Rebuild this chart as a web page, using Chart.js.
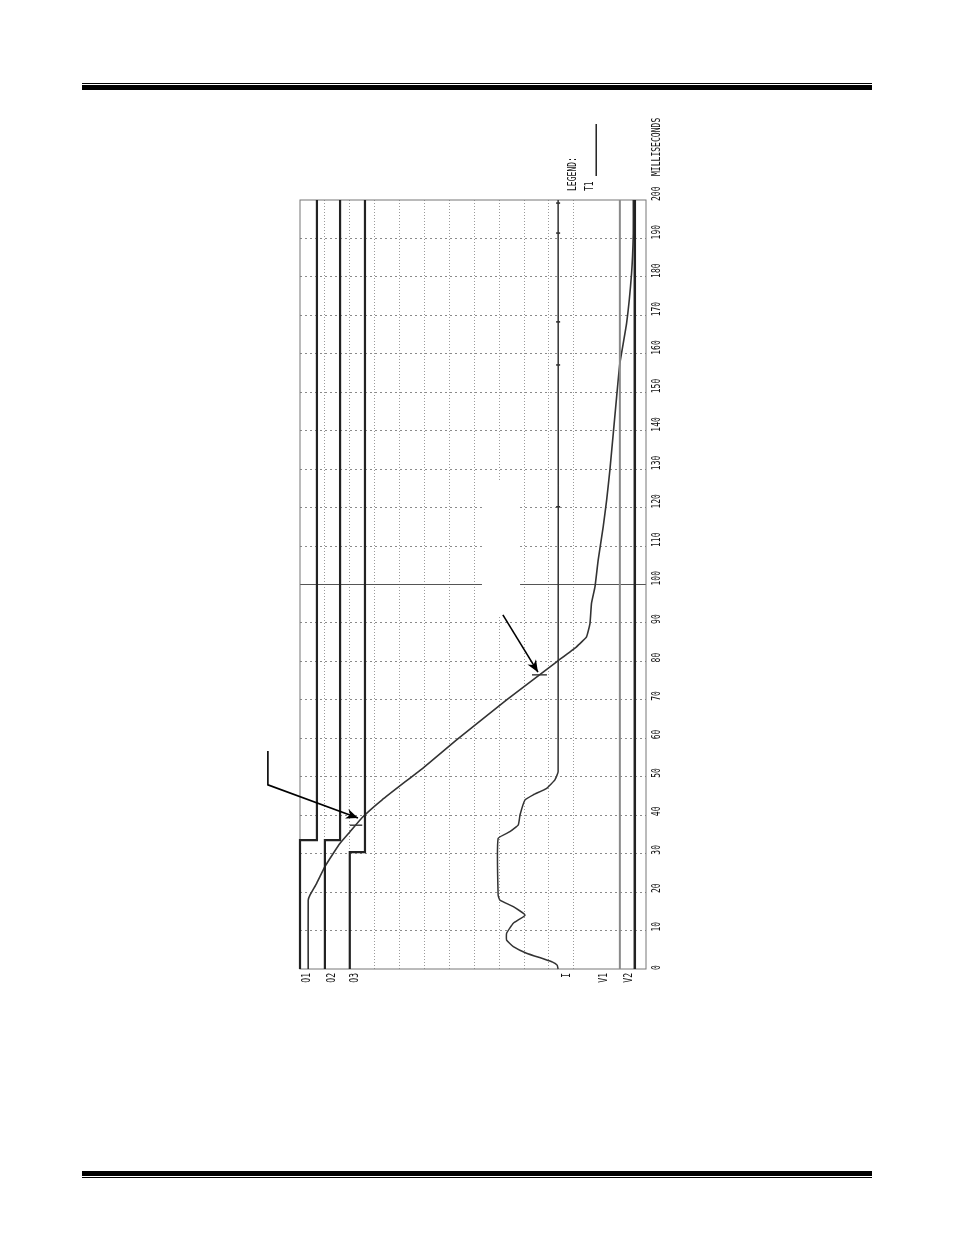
<!DOCTYPE html>
<html>
<head>
<meta charset="utf-8">
<script src="https://cdn.jsdelivr.net/npm/chart.js@4.4.1/dist/chart.umd.min.js"></script>
<style>
  html, body { margin:0; padding:0; background:#fff; width:954px; height:1235px; overflow:hidden; }
  .rule { position:absolute; left:82px; width:790px; background:#000; }
  #wrap { position:absolute; left:0; top:0; width:954px; height:1235px; }
</style>
</head>
<body>
<div class="rule" style="top:83px;height:1px;"></div>
<div class="rule" style="top:85px;height:5px;"></div>
<div class="rule" style="top:1171px;height:5px;"></div>
<div class="rule" style="top:1177px;height:1px;"></div>
<div id="wrap"><canvas id="c" width="954" height="1235" style="width:954px;height:1235px;"></canvas></div>
<script>
// ---- data (time in milliseconds, level in chart units) ----
const timeTicks = [0,10,20,30,40,50,60,70,80,90,100,110,120,130,140,150,160,170,180,190,200];
const channelNames = ['O1','O2','O3','I','V1','V2'];

const o1Time  = [0, 33.5, 33.5, 200];
const o1Level = [0, 0, 0.68, 0.68];
const o2Time  = [0, 33.5, 33.5, 200];
const o2Level = [1.0, 1.0, 1.61, 1.61];
const o3Time  = [0, 30.4, 30.4, 200];
const o3Level = [2.0, 2.0, 2.61, 2.61];

const iTime  = [0, 1.0, 1.8, 2.6, 4.1, 5.8, 7.5, 9.3, 11.9, 14.0, 16.2, 17.9, 19.2, 34.0, 35.7, 37.5, 40.1, 44.0, 45.3, 47.0, 49.2, 51.3, 200];
const iLevel = [10.37, 10.33, 10.15, 9.80, 9.10, 8.57, 8.30, 8.30, 8.57, 9.04, 8.57, 8.03, 7.96, 7.96, 8.43, 8.77, 8.84, 9.04, 9.37, 9.91, 10.24, 10.37, 10.37];
const iMarkTime = [120.2, 157.1, 168.3, 191.4, 199.2];

const v1Time = [0, 200];
const v1Level = [12.85, 12.85];
const v2Time = [0, 200];
const v2Level = [13.45, 13.45];

const t1Time  = [0, 17.9, 19.2, 22.3, 26.6, 30.1, 32.7, 35.7, 39.4, 44.0, 52.6, 59.6, 70.0, 79.9, 83.8, 86.4, 89.9, 95.1, 99.4, 106.4, 115.0, 122.0, 129.8, 148.8, 157.5, 167.9, 180.9, 191.3, 200];
const t1Level = [0.33, 0.33, 0.40, 0.67, 1.0, 1.34, 1.61, 2.01, 2.5, 3.3, 5.0, 6.29, 8.30, 10.31, 11.11, 11.51, 11.65, 11.71, 11.85, 11.98, 12.18, 12.32, 12.45, 12.72, 12.85, 13.12, 13.32, 13.39, 13.39];

// short contact marks on the travel curve
const markATime = [37.4, 37.4];
const markALevel = [2.0, 2.5];
const markBTime = [76.5, 76.5];
const markBLevel = [9.32, 9.92];

// channel label anchors (level units)
const channelLabelLevel = [0.4, 1.41, 2.33, 10.84, 12.33, 13.33];

// annotation arrows (level, time)
const arrow1Level = [-1.29, -1.29, 2.33];
const arrow1Time  = [56.7, 47.9, 39.3];
const arrow2Level = [8.15, 9.56];
const arrow2Time  = [92.1, 77.2];

// blanked area (level, time ranges)
const blankLevel = [7.31, 8.84];
const blankTime = [92, 127];

function pts(levels, times) { return levels.map((v, i) => ({ x: v, y: times[i] })); }

const FONT = '13px "DejaVu Sans Mono", "Liberation Mono", monospace';
function rotText(ctx, text, x, y, align) {
  ctx.save();
  ctx.translate(x, y);
  ctx.rotate(-Math.PI / 2);
  ctx.scale(0.62, 1);
  ctx.font = FONT;
  ctx.fillStyle = '#111';
  ctx.textAlign = align;
  ctx.textBaseline = 'alphabetic';
  ctx.fillText(text, 0, 0);
  ctx.restore();
}
function arrow(ctx, xs, ys) {
  ctx.save();
  ctx.strokeStyle = '#000';
  ctx.fillStyle = '#000';
  ctx.lineWidth = 1.6;
  ctx.beginPath();
  ctx.moveTo(xs[0], ys[0]);
  for (let i = 1; i < xs.length; i++) ctx.lineTo(xs[i], ys[i]);
  ctx.stroke();
  const n = xs.length;
  const ang = Math.atan2(ys[n-1] - ys[n-2], xs[n-1] - xs[n-2]);
  const L = 12, W = 5;
  ctx.beginPath();
  ctx.moveTo(xs[n-1], ys[n-1]);
  ctx.lineTo(xs[n-1] - L*Math.cos(ang) + W*Math.sin(ang), ys[n-1] - L*Math.sin(ang) - W*Math.cos(ang));
  ctx.lineTo(xs[n-1] - L*0.7*Math.cos(ang), ys[n-1] - L*0.7*Math.sin(ang));
  ctx.lineTo(xs[n-1] - L*Math.cos(ang) - W*Math.sin(ang), ys[n-1] - L*Math.sin(ang) + W*Math.cos(ang));
  ctx.closePath();
  ctx.fill();
  ctx.restore();
}

const decor = {
  id: 'decor',
  beforeDatasetsDraw(chart) {
    const { ctx, chartArea: a, scales: { x, y } } = chart;
    ctx.save();
    ctx.strokeStyle = '#555';
    ctx.lineWidth = 1.2;
    const y100 = y.getPixelForValue(100);
    ctx.beginPath(); ctx.moveTo(a.left, y100); ctx.lineTo(a.right, y100); ctx.stroke();
    ctx.strokeStyle = '#777';
    ctx.lineWidth = 1;
    ctx.strokeRect(a.left, a.top, a.right - a.left, a.bottom - a.top);
    ctx.restore();
  },
  afterDatasetsDraw(chart) {
    const { ctx, chartArea: a, scales: { x, y } } = chart;
    ctx.save();
    ctx.fillStyle = '#fff';
    const bx0 = x.getPixelForValue(blankLevel[0]), bx1 = x.getPixelForValue(blankLevel[1]);
    const by0 = y.getPixelForValue(blankTime[1]), by1 = y.getPixelForValue(blankTime[0]);
    ctx.fillRect(bx0, by0, bx1 - bx0, by1 - by0);
    ctx.restore();
    arrow(ctx, arrow1Level.map(v => x.getPixelForValue(v)), arrow1Time.map(t => y.getPixelForValue(t)));
    arrow(ctx, arrow2Level.map(v => x.getPixelForValue(v)), arrow2Time.map(t => y.getPixelForValue(t)));
    const tx = a.right + 14;
    timeTicks.forEach(t => rotText(ctx, String(t), tx, y.getPixelForValue(t) + 1, 'left'));
    rotText(ctx, 'MILLISECONDS', tx, y.getPixelForValue(200) - 24, 'left');
    rotText(ctx, 'LEGEND:', x.getPixelForValue(11.1), y.getPixelForValue(200) - 9, 'left');
    rotText(ctx, 'T1', x.getPixelForValue(11.77), y.getPixelForValue(200) - 9, 'left');
    ctx.save();
    ctx.strokeStyle = '#222'; ctx.lineWidth = 1.5;
    const lx = x.getPixelForValue(11.9);
    ctx.beginPath(); ctx.moveTo(lx, y.getPixelForValue(200) - 24); ctx.lineTo(lx, y.getPixelForValue(200) - 76); ctx.stroke();
    ctx.restore();
    channelNames.forEach((n, i) => rotText(ctx, n, x.getPixelForValue(channelLabelLevel[i]), a.bottom + 4, 'right'));
  }
};

const line = (data, color, w) => ({
  data, borderColor: color, borderWidth: w, pointRadius: 0, showLine: true,
  fill: false, tension: 0, clip: false
});

new Chart(document.getElementById('c'), {
  type: 'scatter',
  data: {
    datasets: [
      line(pts(o1Level, o1Time), '#222', 2.2),
      line(pts(o2Level, o2Time), '#222', 2.2),
      line(pts(o3Level, o3Time), '#222', 2.2),
      line(pts(v1Level, v1Time), '#8a8a8a', 2),
      line(pts(v2Level, v2Time), '#222', 2.5),
      Object.assign(line(pts(iLevel, iTime), '#333', 1.5), { tension: 0.12 }),
      Object.assign(line(pts(t1Level, t1Time), '#333', 1.6), { tension: 0.12 }),
      line(pts(markALevel, markATime), '#333', 1.4),
      line(pts(markBLevel, markBTime), '#333', 1.4),
      { data: iMarkTime.map(t => ({ x: iLevel[iLevel.length - 1], y: t })), pointStyle: 'line',
        pointRadius: 2, borderColor: '#222', borderWidth: 1.5, showLine: false, clip: false }
    ]
  },
  options: {
    responsive: false,
    animation: false,
    events: [],
    layout: { padding: { left: 300, right: 308, top: 200, bottom: 266 } },
    plugins: { legend: { display: false }, tooltip: { enabled: false } },
    scales: {
      x: {
        type: 'linear', min: 0, max: 13.9,
        ticks: { display: false, stepSize: 1 },
        grid: {
          drawTicks: false, lineWidth: 1,
          color: c => (c.tick && c.tick.value >= 1 && c.tick.value <= 11 && Number.isInteger(c.tick.value)) ? '#9a9a9a' : 'rgba(0,0,0,0)'
        },
        border: { display: false, dash: [1, 2] }
      },
      y: {
        type: 'linear', min: 0, max: 200,
        ticks: { display: false, stepSize: 10 },
        grid: {
          drawTicks: false, lineWidth: 1,
          color: c => (c.tick && c.tick.value > 0 && c.tick.value < 200) ? '#8a8a8a' : 'rgba(0,0,0,0)'
        },
        border: { display: false, dash: [2, 3] }
      }
    }
  },
  plugins: [decor]
});
</script>
</body>
</html>
